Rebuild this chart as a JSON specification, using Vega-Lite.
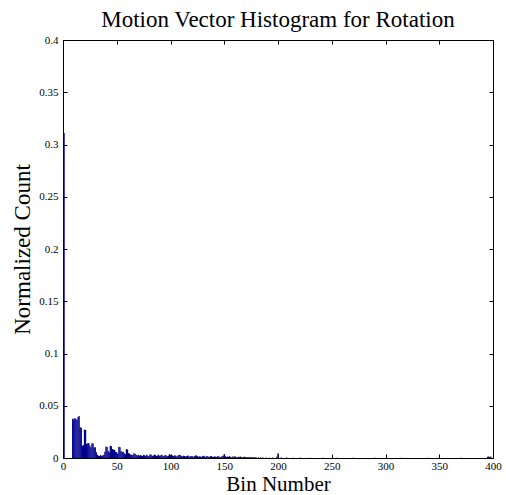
{
  "$schema": "https://vega.github.io/schema/vega-lite/v6.json",
  "width": 430,
  "height": 418,
  "autosize": "none",
  "padding": {"left": 63, "top": 40, "right": 13, "bottom": 37},
  "background": "white",
  "config": {
    "view": {"stroke": "#000000", "strokeWidth": 1},
    "font": "Liberation Serif",
    "axis": {
      "domainColor": "#000000",
      "tickColor": "#000000",
      "tickSize": -4,
      "grid": false,
      "labelFont": "Liberation Serif",
      "labelFontSize": 11,
      "labelColor": "#000000",
      "titleFont": "Liberation Serif",
      "titleFontSize": 23,
      "titleFontWeight": "normal",
      "titleColor": "#000000"
    }
  },
  "title": {
    "text": "Motion Vector Histogram for Rotation",
    "font": "Liberation Serif",
    "fontSize": 23,
    "fontWeight": "normal",
    "color": "#000000",
    "offset": 2
  },
  "data": {
    "values": [
      {"bin": 1, "count": 0.311},
      {"bin": 9, "count": 0.0375}, {"bin": 10, "count": 0.0372}, {"bin": 11, "count": 0.038}, {"bin": 12, "count": 0.0376},
      {"bin": 13, "count": 0.0364}, {"bin": 14, "count": 0.0392}, {"bin": 15, "count": 0.0401}, {"bin": 16, "count": 0.0295},
      {"bin": 17, "count": 0.0289}, {"bin": 18, "count": 0.0118}, {"bin": 19, "count": 0.0125}, {"bin": 20, "count": 0.0272},
      {"bin": 21, "count": 0.0268}, {"bin": 22, "count": 0.0134}, {"bin": 23, "count": 0.014}, {"bin": 24, "count": 0.0143},
      {"bin": 25, "count": 0.012}, {"bin": 26, "count": 0.0102}, {"bin": 27, "count": 0.014}, {"bin": 28, "count": 0.0138},
      {"bin": 29, "count": 0.01}, {"bin": 30, "count": 0.0102}, {"bin": 31, "count": 0.0054}, {"bin": 32, "count": 0.003},
      {"bin": 33, "count": 0.0022}, {"bin": 34, "count": 0.0018}, {"bin": 35, "count": 0.0028}, {"bin": 36, "count": 0.002},
      {"bin": 37, "count": 0.0025}, {"bin": 38, "count": 0.003}, {"bin": 39, "count": 0.006}, {"bin": 40, "count": 0.011},
      {"bin": 41, "count": 0.0105}, {"bin": 42, "count": 0.007}, {"bin": 43, "count": 0.0055}, {"bin": 44, "count": 0.0118},
      {"bin": 45, "count": 0.0112}, {"bin": 46, "count": 0.0086}, {"bin": 47, "count": 0.008}, {"bin": 48, "count": 0.0077},
      {"bin": 49, "count": 0.006}, {"bin": 50, "count": 0.0054}, {"bin": 51, "count": 0.004}, {"bin": 52, "count": 0.0108},
      {"bin": 53, "count": 0.0104}, {"bin": 54, "count": 0.0064}, {"bin": 55, "count": 0.006}, {"bin": 56, "count": 0.006},
      {"bin": 57, "count": 0.0045}, {"bin": 58, "count": 0.0035}, {"bin": 59, "count": 0.0086}, {"bin": 60, "count": 0.0082},
      {"bin": 61, "count": 0.0048}, {"bin": 62, "count": 0.004}, {"bin": 63, "count": 0.003}, {"bin": 64, "count": 0.0032},
      {"bin": 65, "count": 0.0028}, {"bin": 66, "count": 0.0045}, {"bin": 67, "count": 0.004}, {"bin": 68, "count": 0.003},
      {"bin": 69, "count": 0.0025}, {"bin": 70, "count": 0.003}, {"bin": 71, "count": 0.0022}, {"bin": 72, "count": 0.0028},
      {"bin": 73, "count": 0.0024}, {"bin": 74, "count": 0.0018}, {"bin": 75, "count": 0.003}, {"bin": 76, "count": 0.0026},
      {"bin": 77, "count": 0.002}, {"bin": 78, "count": 0.0032}, {"bin": 79, "count": 0.0022}, {"bin": 80, "count": 0.0018},
      {"bin": 81, "count": 0.0035}, {"bin": 82, "count": 0.003}, {"bin": 83, "count": 0.002}, {"bin": 84, "count": 0.0025},
      {"bin": 85, "count": 0.0033}, {"bin": 86, "count": 0.0028}, {"bin": 87, "count": 0.0018}, {"bin": 88, "count": 0.0024},
      {"bin": 89, "count": 0.003}, {"bin": 90, "count": 0.002}, {"bin": 91, "count": 0.0026}, {"bin": 92, "count": 0.0032},
      {"bin": 93, "count": 0.0022}, {"bin": 94, "count": 0.0018}, {"bin": 95, "count": 0.0028}, {"bin": 96, "count": 0.0024},
      {"bin": 97, "count": 0.0016}, {"bin": 98, "count": 0.0022}, {"bin": 99, "count": 0.0036}, {"bin": 100, "count": 0.003},
      {"bin": 101, "count": 0.002}, {"bin": 102, "count": 0.0024}, {"bin": 103, "count": 0.0018}, {"bin": 104, "count": 0.0026},
      {"bin": 105, "count": 0.0022}, {"bin": 106, "count": 0.0015}, {"bin": 107, "count": 0.0024}, {"bin": 108, "count": 0.0032},
      {"bin": 109, "count": 0.0028}, {"bin": 110, "count": 0.0018}, {"bin": 111, "count": 0.0015}, {"bin": 112, "count": 0.0022},
      {"bin": 113, "count": 0.002}, {"bin": 114, "count": 0.0014}, {"bin": 115, "count": 0.0018}, {"bin": 116, "count": 0.0024},
      {"bin": 117, "count": 0.0016}, {"bin": 118, "count": 0.0012}, {"bin": 119, "count": 0.002}, {"bin": 120, "count": 0.0018},
      {"bin": 121, "count": 0.0012}, {"bin": 122, "count": 0.0016}, {"bin": 123, "count": 0.0022}, {"bin": 124, "count": 0.0026},
      {"bin": 125, "count": 0.0018}, {"bin": 126, "count": 0.0012}, {"bin": 127, "count": 0.0016}, {"bin": 128, "count": 0.0014},
      {"bin": 129, "count": 0.001}, {"bin": 130, "count": 0.0018}, {"bin": 131, "count": 0.0022}, {"bin": 132, "count": 0.0015},
      {"bin": 133, "count": 0.0012}, {"bin": 134, "count": 0.0018}, {"bin": 135, "count": 0.0014}, {"bin": 136, "count": 0.001},
      {"bin": 137, "count": 0.0016}, {"bin": 138, "count": 0.002}, {"bin": 139, "count": 0.0012}, {"bin": 140, "count": 0.001},
      {"bin": 141, "count": 0.0016}, {"bin": 142, "count": 0.0013}, {"bin": 143, "count": 0.001}, {"bin": 144, "count": 0.0018},
      {"bin": 145, "count": 0.0014}, {"bin": 146, "count": 0.001}, {"bin": 147, "count": 0.0012}, {"bin": 148, "count": 0.0016},
      {"bin": 149, "count": 0.0022}, {"bin": 150, "count": 0.0038}, {"bin": 151, "count": 0.0016}, {"bin": 152, "count": 0.001},
      {"bin": 153, "count": 0.0014}, {"bin": 154, "count": 0.0012}, {"bin": 155, "count": 0.0018}, {"bin": 156, "count": 0.001},
      {"bin": 157, "count": 0.0008}, {"bin": 158, "count": 0.0014}, {"bin": 159, "count": 0.0012}, {"bin": 160, "count": 0.0016},
      {"bin": 161, "count": 0.001}, {"bin": 162, "count": 0.0008}, {"bin": 163, "count": 0.0012}, {"bin": 164, "count": 0.001},
      {"bin": 165, "count": 0.0014}, {"bin": 166, "count": 0.0008}, {"bin": 167, "count": 0.0006}, {"bin": 168, "count": 0.001},
      {"bin": 169, "count": 0.0012}, {"bin": 170, "count": 0.0008}, {"bin": 171, "count": 0.0006}, {"bin": 172, "count": 0.001},
      {"bin": 173, "count": 0.0008}, {"bin": 174, "count": 0.0006}, {"bin": 175, "count": 0.0009}, {"bin": 176, "count": 0.0007},
      {"bin": 177, "count": 0.0005}, {"bin": 178, "count": 0.0008}, {"bin": 179, "count": 0.0006}, {"bin": 180, "count": 0.0005},
      {"bin": 182, "count": 0.0006}, {"bin": 184, "count": 0.0005}, {"bin": 186, "count": 0.0004}, {"bin": 189, "count": 0.0005},
      {"bin": 192, "count": 0.0004}, {"bin": 195, "count": 0.0004}, {"bin": 199, "count": 0.0012}, {"bin": 200, "count": 0.0045},
      {"bin": 203, "count": 0.0004}, {"bin": 208, "count": 0.0005}, {"bin": 214, "count": 0.0003}, {"bin": 221, "count": 0.0004},
      {"bin": 230, "count": 0.0003}, {"bin": 242, "count": 0.0003}, {"bin": 255, "count": 0.0002}, {"bin": 270, "count": 0.0003},
      {"bin": 290, "count": 0.0002}, {"bin": 315, "count": 0.0002}, {"bin": 340, "count": 0.0002}, {"bin": 370, "count": 0.0002},
      {"bin": 395, "count": 0.0012}, {"bin": 396, "count": 0.0015}, {"bin": 397, "count": 0.001}, {"bin": 398, "count": 0.0014}
    ]
  },
  "layer": [
    {
      "mark": {"type": "bar", "width": 1.3, "color": "#00008f", "clip": true},
      "encoding": {
        "x": {
          "field": "bin",
          "type": "quantitative",
          "scale": {"domain": [0, 400], "nice": false, "zero": true, "padding": 0},
          "axis": {
            "orient": "bottom",
            "values": [0, 50, 100, 150, 200, 250, 300, 350, 400],
            "labelPadding": 6,
            "title": "Bin Number",
            "titleFontSize": 21,
            "titlePadding": 2,
            "labelFlush": false
          }
        },
        "y": {
          "field": "count",
          "type": "quantitative",
          "scale": {"domain": [0, 0.4], "nice": false, "padding": 0},
          "axis": {
            "orient": "left",
            "values": [0, 0.05, 0.1, 0.15, 0.2, 0.25, 0.3, 0.35, 0.4],
            "format": ".2~f",
            "labelPadding": 9,
            "title": "Normalized Count",
            "titlePadding": 4,
            "labelFlush": false
          }
        }
      }
    },
    {
      "mark": {"type": "point", "opacity": 0},
      "encoding": {
        "x": {
          "field": "bin",
          "type": "quantitative",
          "axis": {
            "orient": "top",
            "values": [0, 50, 100, 150, 200, 250, 300, 350, 400],
            "labels": false,
            "title": null
          }
        },
        "y": {
          "field": "count",
          "type": "quantitative",
          "axis": {
            "orient": "right",
            "values": [0, 0.05, 0.1, 0.15, 0.2, 0.25, 0.3, 0.35, 0.4],
            "labels": false,
            "title": null
          }
        }
      }
    }
  ],
  "resolve": {"axis": {"x": "independent", "y": "independent"}}
}
